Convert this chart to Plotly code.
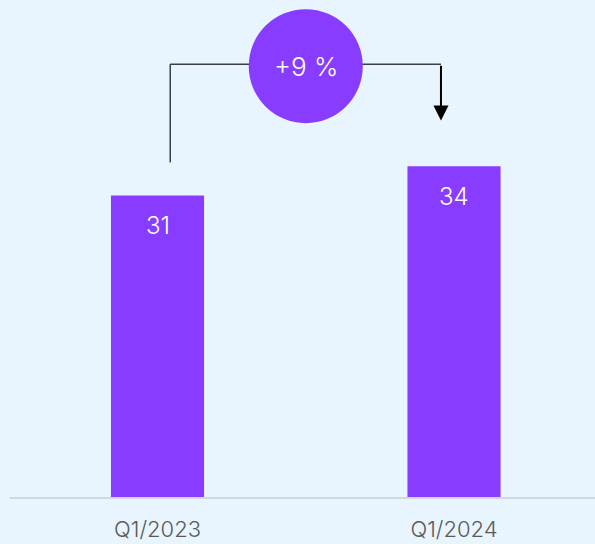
import plotly.graph_objects as go

BG = "#e8f4fe"
PURPLE = "#873cff"

quarters = ["Q1/2023", "Q1/2024"]
values = [31, 34]
change_label = "+9 %"

xpos = [0, 1]

fig = go.Figure()
fig.add_trace(go.Bar(
    x=xpos, y=values, width=0.314,
    marker=dict(color=PURPLE, line=dict(width=0)),
    hoverinfo="skip",
))

# value labels inside the bars, near the top
for x, v in zip(xpos, values):
    fig.add_annotation(
        x=x, y=v, text=str(v), showarrow=False,
        yanchor="top", yshift=-14,
        font=dict(family="Inter", size=24, color="white", weight=300),
    )

# bracket from first bar to second bar
y_top = 44.5
fig.add_shape(type="line", x0=0.043, x1=0.043, y0=values[0] + 3.4, y1=y_top,
              line=dict(color="#3a3f44", width=1.5))
fig.add_shape(type="line", x0=0.043, x1=1 - 0.044, y0=y_top, y1=y_top,
              line=dict(color="#3a3f44", width=1.5))
fig.add_annotation(
    x=1 - 0.044, y=values[1] + 4.7, ax=1 - 0.044, ay=y_top,
    xref="x", yref="y", axref="x", ayref="y",
    showarrow=True, arrowhead=2, arrowsize=1.5, arrowwidth=2,
    arrowcolor="black", text="",
)

# circle with percentage change, drawn over the bracket
fig.add_shape(
    type="circle", xref="x", yref="y",
    xsizemode="pixel", ysizemode="pixel",
    xanchor=0.5, yanchor=44.3,
    x0=-57, x1=57, y0=-57, y1=57,
    fillcolor=PURPLE, line=dict(width=0), layer="above",
)
fig.add_annotation(
    x=0.5, y=44.3, text=change_label, showarrow=False,
    font=dict(family="Inter", size=26, color="white", weight=300),
)

fig.update_layout(
    width=595, height=544,
    margin=dict(l=10, r=0, t=0, b=47),
    paper_bgcolor=BG, plot_bgcolor=BG,
    showlegend=False,
    xaxis=dict(
        range=[-0.4975, 1.4755],
        tickmode="array", tickvals=xpos, ticktext=quarters,
        showgrid=False, zeroline=False, automargin=False,
        showline=True, linecolor="#d3d8dc", linewidth=1.5,
        ticks="outside", ticklen=12, tickcolor="rgba(0,0,0,0)",
        tickfont=dict(family="Inter", size=22, color="#5a5a5a", weight=300),
        fixedrange=True,
    ),
    yaxis=dict(range=[0, 51.1], visible=False, fixedrange=True),
)

fig.write_html("out.html", config={"displayModeBar": False},
               post_script="document.body.style.margin='0';")
